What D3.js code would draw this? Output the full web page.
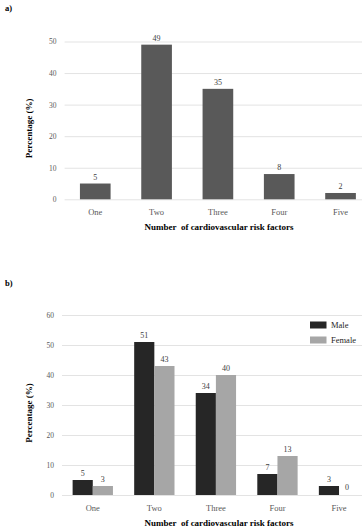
<!DOCTYPE html>
<html>
<head>
<meta charset="utf-8">
<script src="https://cdn.jsdelivr.net/npm/d3@7"></script>
<style>
  body { margin: 0; background: #fff; }
  svg { display: block; }
  svg text { font-family: "Liberation Serif", "DejaVu Serif", serif; }
</style>
</head>
<body>
<div id="chart"></div>
<script>
const categories = ['One', 'Two', 'Three', 'Four', 'Five'];
const totalValues = [5, 49, 35, 8, 2];
const maleValues = [5, 51, 34, 7, 3];
const femaleValues = [3, 43, 40, 13, 0];
const ticksA = [0, 10, 20, 30, 40, 50];
const ticksB = [0, 10, 20, 30, 40, 50, 60];
const seriesNames = ['Male', 'Female'];

const W = 362, H = 532;
const svg = d3.select('#chart').append('svg').attr('width', W).attr('height', H);

function panel(g, opts) {
  const x = d3.scaleBand().domain(categories).range([opts.left, opts.right])
    .paddingInner(opts.pad).paddingOuter(opts.pad / 2);
  const y = d3.scaleLinear().domain([0, d3.max(opts.ticks)]).range([opts.bottom, opts.top]);

  g.append('g').attr('transform', `translate(${opts.left},0)`)
    .call(d3.axisLeft(y).tickValues(opts.ticks).tickSize(-(W - opts.left)).tickPadding(8))
    .attr('font-family', null).attr('font-size', null)
    .call(a => a.select('.domain').remove())
    .call(a => a.selectAll('line').attr('stroke', '#e3e3e3'))
    .call(a => a.selectAll('text').attr('fill', '#595959').attr('font-size', '7.5px'));

  g.append('g').attr('transform', `translate(0,${opts.bottom})`)
    .call(d3.axisBottom(x).tickSize(0).tickPadding(10))
    .attr('font-family', null).attr('font-size', null)
    .call(a => a.select('.domain').remove())
    .call(a => a.selectAll('text').attr('fill', '#595959').attr('font-size', '8.5px'));

  g.append('text').attr('x', 219).attr('y', opts.bottom + 31)
    .attr('text-anchor', 'middle').attr('font-weight', 'bold').attr('font-size', '9px')
    .style('white-space', 'pre').text('Number  of cardiovascular risk factors');

  g.append('text').attr('transform', `translate(32,${(opts.top + opts.bottom) / 2 + 8}) rotate(-90)`)
    .attr('text-anchor', 'middle').attr('font-weight', 'bold').attr('font-size', '9px')
    .text('Percentage (%)');
  return { x, y };
}

// panel a
const ga = svg.append('g');
ga.append('text').attr('x', 5).attr('y', 11).attr('font-weight', 'bold').attr('font-size', '8.5px').text('a)');
const pa = panel(ga, { left: 64.6, right: 371.2, top: 41.5, bottom: 199.3, pad: 0.5, ticks: ticksA });
ga.selectAll('.bar').data(totalValues).join('rect')
  .attr('x', (d, i) => pa.x(categories[i]))
  .attr('y', d => pa.y(d))
  .attr('width', pa.x.bandwidth())
  .attr('height', d => pa.y(0) - pa.y(d))
  .attr('fill', '#595959');
ga.selectAll('.lbl').data(totalValues).join('text')
  .attr('x', (d, i) => pa.x(categories[i]) + pa.x.bandwidth() / 2)
  .attr('y', d => pa.y(d) - 4)
  .attr('text-anchor', 'middle').attr('font-size', '8px').attr('fill', '#404040')
  .text(d => d);

// panel b
const gb = svg.append('g');
gb.append('text').attr('x', 5).attr('y', 286).attr('font-weight', 'bold').attr('font-size', '8.5px').text('b)');
const pb = panel(gb, { left: 62, right: 369.8, top: 315, bottom: 495, pad: 0.345, ticks: ticksB });
const x1 = d3.scaleBand().domain(seriesNames).range([0, pb.x.bandwidth()]);
const colors = { Male: '#262626', Female: '#a6a6a6' };
const rows = categories.map((c, i) => [
  { cat: c, key: 'Male', value: maleValues[i] },
  { cat: c, key: 'Female', value: femaleValues[i] }
]);
const grp = gb.selectAll('.grp').data(rows).join('g')
  .attr('transform', d => `translate(${pb.x(d[0].cat)},0)`);
grp.selectAll('rect').data(d => d).join('rect')
  .attr('x', d => x1(d.key))
  .attr('y', d => pb.y(d.value))
  .attr('width', x1.bandwidth())
  .attr('height', d => pb.y(0) - pb.y(d.value))
  .attr('fill', d => colors[d.key]);
grp.selectAll('text').data(d => d).join('text')
  .attr('x', d => x1(d.key) + x1.bandwidth() / 2 - (d.value === 0 ? 2 : 0))
  .attr('y', d => pb.y(d.value) - (d.value === 0 ? 5 : 4))
  .attr('text-anchor', 'middle').attr('font-size', '8px').attr('fill', '#404040')
  .text(d => d.value);

// legend
const lg = gb.append('g').attr('transform', 'translate(310,321.5)');
seriesNames.forEach((s, i) => {
  lg.append('rect').attr('x', 0).attr('y', i * 15).attr('width', 16.5).attr('height', 7).attr('fill', colors[s]);
  lg.append('text').attr('x', 21).attr('y', i * 15 + 6.5).attr('font-size', '8.5px').attr('fill', '#262626').text(s);
});
</script>
</body>
</html>
